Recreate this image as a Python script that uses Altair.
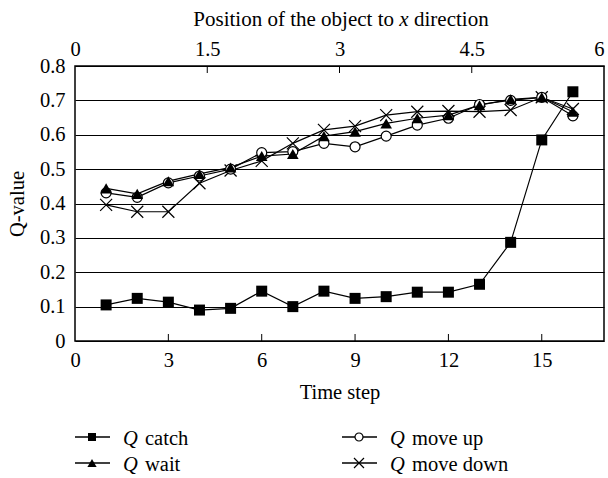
import altair as alt
import pandas as pd

# ---------------- data ----------------
steps = list(range(1, 17))
q_catch = [0.105, 0.124, 0.113, 0.090, 0.095, 0.145, 0.100, 0.145, 0.124, 0.129,
           0.142, 0.142, 0.165, 0.287, 0.585, 0.725]
q_wait = [0.444, 0.428, 0.465, 0.486, 0.505, 0.538, 0.544, 0.596, 0.609, 0.633,
          0.648, 0.657, 0.686, 0.703, 0.709, 0.667]
q_up = [0.431, 0.418, 0.460, 0.480, 0.500, 0.548, 0.551, 0.575, 0.565, 0.596,
        0.628, 0.648, 0.688, 0.700, 0.709, 0.655]
q_down = [0.396, 0.376, 0.376, 0.459, 0.496, 0.524, 0.575, 0.614, 0.625, 0.657,
          0.667, 0.669, 0.667, 0.672, 0.709, 0.675]

series_keys = ["catch", "wait", "move up", "move down"]
series_vals = [q_catch, q_wait, q_up, q_down]

x_ticks = [0, 3, 6, 9, 12, 15]
x_inner_ticks = [3, 6, 9, 12, 15]
top_ticks = [0, 1.5, 3, 4.5, 6]
top_inner_ticks = [1.5, 3, 4.5]
y_ticks = [0, 0.1, 0.2, 0.3, 0.4, 0.5, 0.6, 0.7, 0.8]

x_title = "Time step"
y_title = "Q-value"
top_title_parts = ["Position of the object to", "x", "direction"]

rows = []
for k, vals in zip(series_keys, series_vals):
    for s, v in zip(steps, vals):
        rows.append({"step": s, "value": v, "series": k})
df = pd.DataFrame(rows)

# ---------------- style ----------------
FONT = "Liberation Serif"
FS = 20.5
W, H = 529, 275
X_PATH = "M-1,-1L1,1M-1,1L1,-1"

xscale = alt.Scale(domain=[0, 17], nice=False, zero=False)
yscale = alt.Scale(domain=[0, 0.8], nice=False)

xaxis = alt.Axis(values=x_ticks, format="d", grid=False, labelPadding=9,
                 title=x_title, titleY=57, titleBaseline="alphabetic")
yaxis = alt.Axis(values=y_ticks, format=".1~f", grid=True, gridColor="black",
                 gridWidth=1, gridOpacity=1, labelPadding=10,
                 title=y_title, titleX=-58, titleY=H / 2, titleBaseline="middle")

X = alt.X("step:Q", scale=xscale, axis=xaxis)
Y = alt.Y("value:Q", scale=yscale, axis=yaxis)

base = alt.Chart(df)

lines = base.mark_line(color="black", strokeWidth=1.2).encode(
    x=X, y=Y, detail="series:N")

marker_specs = {
    "catch": dict(shape="square", filled=True, color="black", size=121),
    "wait": dict(shape="triangle-up", filled=True, color="black", size=135),
    "move up": dict(shape="circle", filled=False, fill="white", fillOpacity=1,
                    stroke="black", strokeWidth=1.2, size=100),
    "move down": dict(shape=X_PATH, filled=False, stroke="black",
                      strokeWidth=1.2, size=144),
}
draw_order = ["move down", "move up", "wait", "catch"]
points = [
    base.transform_filter(alt.datum.series == k)
    .mark_point(opacity=1, **marker_specs[k]).encode(x=X, y=Y)
    for k in draw_order
]

bottom_ticks = alt.Chart(pd.DataFrame({"step": x_inner_ticks})).mark_rule(
    color="black", strokeWidth=1).encode(x=X, y=alt.value(H), y2=alt.value(H - 7))

main = alt.layer(lines, *points, bottom_ticks)

top = alt.Chart(pd.DataFrame({"pos": top_inner_ticks})).mark_rule(
    color="black", strokeWidth=1).encode(
    x=alt.X("pos:Q", scale=alt.Scale(domain=[0, 6], nice=False),
            axis=alt.Axis(orient="top", values=top_ticks, format=".1~f",
                          grid=False, labelPadding=7, title=None,
                          labelAlign=alt.ExprRef(
                              "datum.value >= 6 ? 'right' : 'center'"))),
    y=alt.value(0), y2=alt.value(7))

one = pd.DataFrame({"a": [0]})

# top title (with italic x)
TFS = 21
cx = 329
title_layers = [
    alt.Chart(one).mark_text(text=top_title_parts[0], font=FONT, fontSize=TFS,
                             align="right", baseline="alphabetic", color="black")
    .encode(x=alt.value(cx - 10), y=alt.value(-40)),
    alt.Chart(one).mark_text(text=top_title_parts[1], font=FONT, fontSize=TFS,
                             fontStyle="italic", align="center",
                             baseline="alphabetic", color="black")
    .encode(x=alt.value(cx), y=alt.value(-40)),
    alt.Chart(one).mark_text(text=top_title_parts[2], font=FONT, fontSize=TFS,
                             align="left", baseline="alphabetic", color="black")
    .encode(x=alt.value(cx + 10), y=alt.value(-40)),
]

# legend
legend_pos = {"catch": (0, 0), "move up": (1, 0), "wait": (0, 1), "move down": (1, 1)}
legend_marker = {
    "catch": dict(shape="square", filled=True, color="black", size=64),
    "wait": dict(shape="triangle-up", filled=True, color="black", size=85),
    "move up": dict(shape="circle", filled=False, fill="white", fillOpacity=1,
                    stroke="black", strokeWidth=1.2, size=64),
    "move down": dict(shape=X_PATH, filled=False, stroke="black",
                      strokeWidth=1.2, size=100),
}
legend_layers = []
for k in series_keys:
    col, row = legend_pos[k]
    x0 = col * 267
    yl = 371 + row * 26
    legend_layers.append(alt.Chart(one).mark_rule(color="black", strokeWidth=1.3)
                         .encode(x=alt.value(x0), x2=alt.value(x0 + 35), y=alt.value(yl)))
    legend_layers.append(alt.Chart(one).mark_point(opacity=1, **legend_marker[k])
                         .encode(x=alt.value(x0 + 17), y=alt.value(yl)))
    legend_layers.append(alt.Chart(one).mark_text(text="Q", font=FONT, fontSize=FS,
                                                  fontStyle="italic", align="left",
                                                  baseline="alphabetic", color="black")
                         .encode(x=alt.value(x0 + 48), y=alt.value(yl + 8)))
    legend_layers.append(alt.Chart(one).mark_text(text=k, font=FONT, fontSize=FS,
                                                  align="left", baseline="alphabetic",
                                                  color="black")
                         .encode(x=alt.value(x0 + 70), y=alt.value(yl + 8)))

chart = (
    alt.layer(main, top, *title_layers, *legend_layers)
    .resolve_scale(x="independent")
    .properties(width=W, height=H,
                padding={"left": 75, "top": 66, "right": 4, "bottom": 137},
                autosize=alt.AutoSizeParams(type="none"))
    .configure_view(stroke="black", strokeWidth=1.5)
    .configure_axis(labelFont=FONT, labelFontSize=FS, labelColor="black",
                    titleFont=FONT, titleFontSize=FS, titleFontWeight="normal",
                    titleColor="black", labelOverlap=False, labelFlush=False,
                    domain=False, ticks=False, tickSize=0)
)

chart.save("out.html", embed_options={"renderer": "svg", "actions": False})
